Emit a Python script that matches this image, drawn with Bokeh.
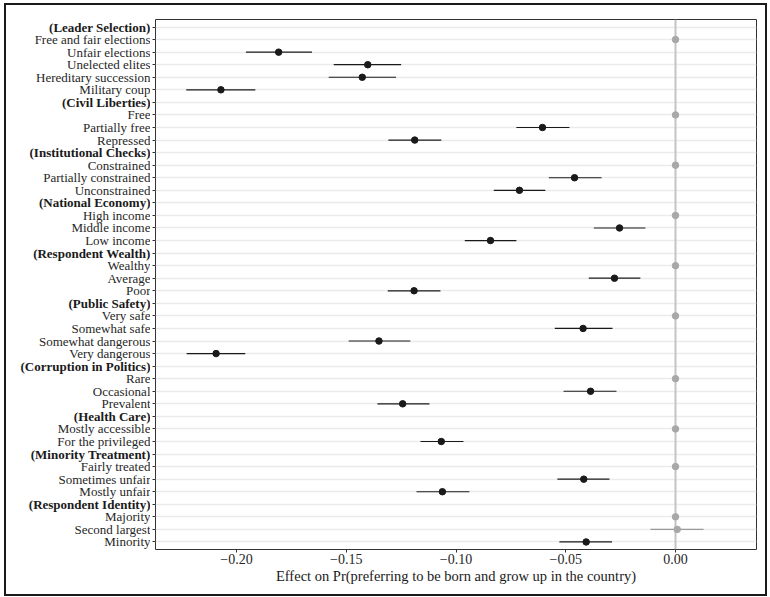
import math
from bokeh.plotting import figure
from bokeh.layouts import row
from bokeh.models import (ColumnDataSource, Range1d, FixedTicker, CustomJSTickFormatter, Span)
from bokeh.core.properties import value
from bokeh.embed import file_html
from bokeh.resources import INLINE

nan = float("nan")

labels = [
    "(Leader Selection)", "Free and fair elections", "Unfair elections", "Unelected elites",
    "Hereditary succession", "Military coup",
    "(Civil Liberties)", "Free", "Partially free", "Repressed",
    "(Institutional Checks)", "Constrained", "Partially constrained", "Unconstrained",
    "(National Economy)", "High income", "Middle income", "Low income",
    "(Respondent Wealth)", "Wealthy", "Average", "Poor",
    "(Public Safety)", "Very safe", "Somewhat safe", "Somewhat dangerous", "Very dangerous",
    "(Corruption in Politics)", "Rare", "Occasional", "Prevalent",
    "(Health Care)", "Mostly accessible", "For the privileged",
    "(Minority Treatment)", "Fairly treated", "Sometimes unfair", "Mostly unfair",
    "(Respondent Identity)", "Majority", "Second largest", "Minority",
]

estimate = [
    nan, 0.0, -0.1808, -0.1402, -0.1427, -0.2071,
    nan, 0.0, -0.0606, -0.1188,
    nan, 0.0, -0.0460, -0.0711,
    nan, 0.0, -0.0255, -0.0843,
    nan, 0.0, -0.0278, -0.1191,
    nan, 0.0, -0.0421, -0.1351, -0.2093,
    nan, 0.0, -0.0387, -0.1243,
    nan, 0.0, -0.1067,
    nan, 0.0, -0.0418, -0.1062,
    nan, 0.0, 0.0008, -0.0407,
]

ci_low = [
    nan, 0.0, -0.1957, -0.1557, -0.1580, -0.2229,
    nan, 0.0, -0.0725, -0.1308,
    nan, 0.0, -0.0577, -0.0828,
    nan, 0.0, -0.0372, -0.0960,
    nan, 0.0, -0.0395, -0.1311,
    nan, 0.0, -0.0550, -0.1489, -0.2227,
    nan, 0.0, -0.0510, -0.1358,
    nan, 0.0, -0.1162,
    nan, 0.0, -0.0538, -0.1180,
    nan, 0.0, -0.0114, -0.0529,
]

ci_high = [
    nan, 0.0, -0.1656, -0.1250, -0.1273, -0.1914,
    nan, 0.0, -0.0483, -0.1067,
    nan, 0.0, -0.0337, -0.0593,
    nan, 0.0, -0.0137, -0.0725,
    nan, 0.0, -0.0160, -0.1071,
    nan, 0.0, -0.0287, -0.1208, -0.1960,
    nan, 0.0, -0.0269, -0.1121,
    nan, 0.0, -0.0966,
    nan, 0.0, -0.0301, -0.0939,
    nan, 0.0, 0.0128, -0.0289,
]

x_ticks = [-0.20, -0.15, -0.10, -0.05, 0.00]
x_title = "Effect on Pr(preferring to be born and grow up in the country)"

FONT = "Liberation Serif"
TXT = "#262626"

rows = list(range(1, len(labels) + 1))
is_group = [l.startswith("(") for l in labels]

pt = dict(y=[], est=[], lo=[], hi=[], color=[], lcolor=[])
for r, e, lo, hi in zip(rows, estimate, ci_low, ci_high):
    if math.isnan(e):
        continue
    sig = (hi < 0) or (lo > 0)
    pt["y"].append(r)
    pt["est"].append(e)
    pt["lo"].append(lo)
    pt["hi"].append(hi)
    pt["color"].append("#1a1a1a" if sig else "#a8a8a8")
    pt["lcolor"].append("#1a1a1a" if sig else "#9a9a9a")
src = ColumnDataSource(pt)

lab_src = ColumnDataSource(dict(
    y=rows,
    text=labels,
    x=[1.0] * len(rows),
    style=["bold" if g else "normal" for g in is_group],
    color=["#1a1a1a" if g else TXT for g in is_group],
))

y_range = Range1d(42.6, 0.4)
TOP, BOTTOM, H = 14, 45, 589

# left panel holding the category labels
lp = figure(width=144, height=H, output_backend="svg", toolbar_location=None,
            x_range=Range1d(0, 1), y_range=y_range,
            min_border_left=0, min_border_right=0, min_border_top=TOP, min_border_bottom=BOTTOM)
lp.axis.visible = False
lp.grid.grid_line_color = None
lp.outline_line_color = None
lp.background_fill_color = "white"
lp.border_fill_color = "white"
lp.text(x="x", y="y", text="text", source=lab_src, text_align="right", text_baseline="middle",
        text_font=value(FONT), text_font_style="style", text_font_size="13px",
        text_color="color")

# main panel
p = figure(width=615, height=H, output_backend="svg", toolbar_location=None,
           x_range=Range1d(-0.2369, 0.0369), y_range=y_range,
           min_border_left=5, min_border_right=9, min_border_top=TOP, min_border_bottom=BOTTOM)
p.background_fill_color = "white"
p.border_fill_color = "white"
p.outline_line_color = "#333333"
p.outline_line_width = 1

p.xgrid.grid_line_color = None
p.ygrid.ticker = FixedTicker(ticks=rows)
p.ygrid.grid_line_color = "#ebebeb"
p.ygrid.grid_line_width = 1.6

zero = Span(location=0, dimension="height", line_color="#c4c4c4", line_width=2, level="underlay")
p.add_layout(zero)

p.segment(x0="lo", x1="hi", y0="y", y1="y", source=src, line_color="lcolor", line_width=1.2)
p.scatter(x="est", y="y", source=src, size=6.5, fill_color="color", line_color="color")

p.yaxis.ticker = FixedTicker(ticks=rows)
p.yaxis.formatter = CustomJSTickFormatter(code="return '';")
p.yaxis.axis_line_color = None
p.yaxis.major_tick_line_color = "#333333"
p.yaxis.major_tick_out = 3
p.yaxis.major_tick_in = 0
p.yaxis.minor_tick_line_color = None
p.yaxis.major_label_standoff = 0

p.xaxis.ticker = FixedTicker(ticks=x_ticks)
p.xaxis.formatter = CustomJSTickFormatter(
    code="return (tick < -1e-9 ? '\u2212' : '') + Math.abs(tick).toFixed(2);")
p.xaxis.axis_line_color = None
p.xaxis.major_tick_line_color = "#333333"
p.xaxis.major_tick_out = 3
p.xaxis.major_tick_in = 0
p.xaxis.minor_tick_line_color = None
p.xaxis.major_label_standoff = 1
p.xaxis.major_label_text_font = FONT
p.xaxis.major_label_text_font_size = "14px"
p.xaxis.major_label_text_color = TXT
p.xaxis.axis_label = x_title
p.xaxis.axis_label_text_font = FONT
p.xaxis.axis_label_text_font_size = "14.5px"
p.xaxis.axis_label_text_font_style = "normal"
p.xaxis.axis_label_text_color = "#1a1a1a"
p.xaxis.axis_label_standoff = 1

layout = row(lp, p, spacing=0,
             styles={"border": "2px solid #1a1a1a", "margin-left": "4px", "margin-top": "3px"})

open("out.html", "w").write(file_html(layout, INLINE))
